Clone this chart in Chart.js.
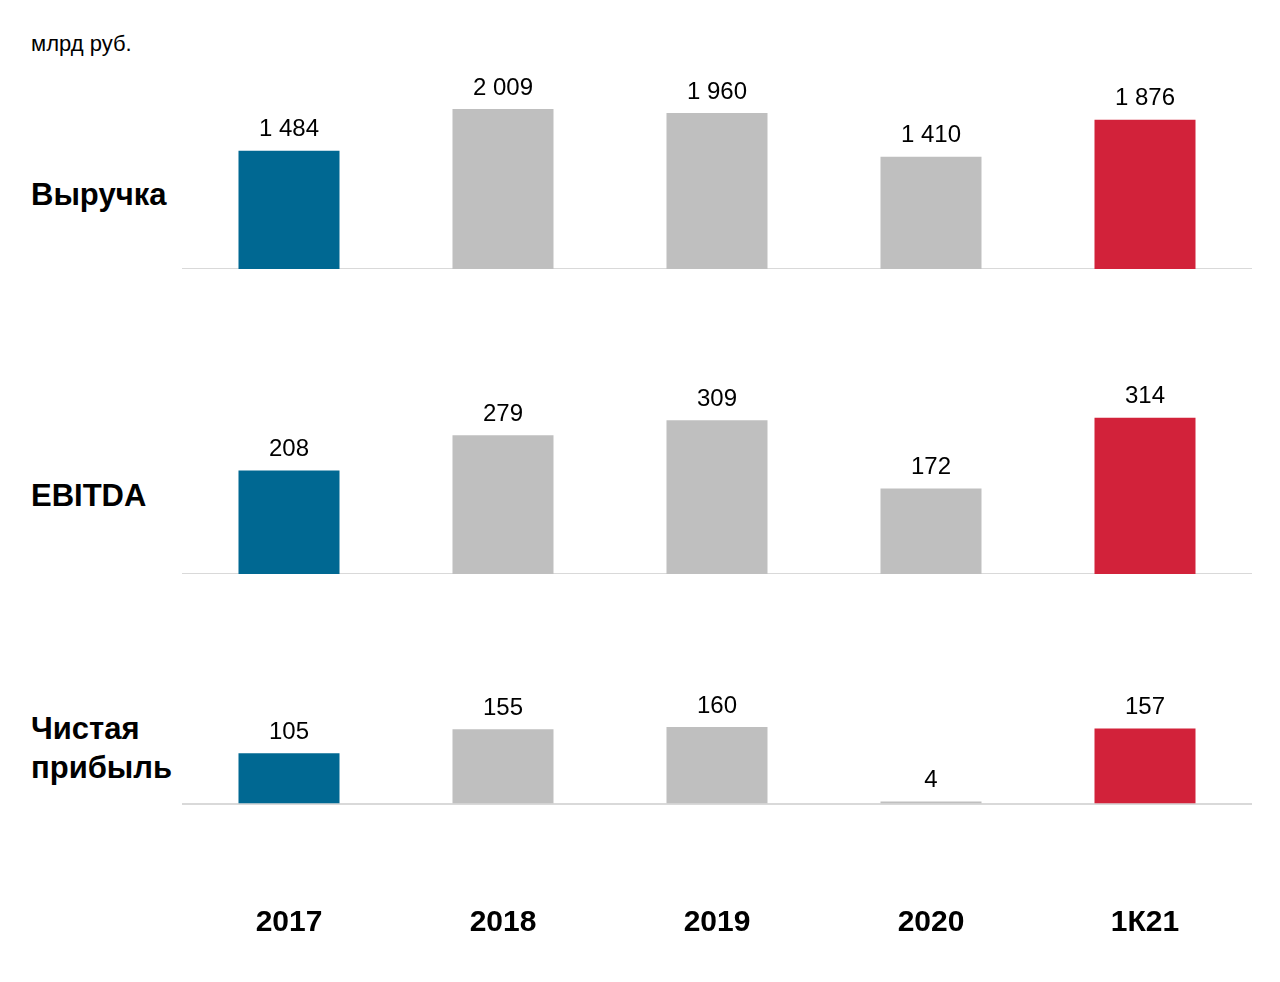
<!DOCTYPE html>
<html>
<head>
<meta charset="utf-8">
<script src="https://cdn.jsdelivr.net/npm/chart.js@4"></script>
<style>
  body { margin: 0; background: #fff; width: 1280px; height: 982px; position: relative; overflow: hidden;
         font-family: "Liberation Sans", Arial, sans-serif; color: #000; }
  .unit { position: absolute; left: 31px; top: 31px; font-size: 22px; }
  .rowname { position: absolute; left: 31px; font-size: 31px; font-weight: bold; line-height: 39px; }
  .box { position: absolute; left: 182px; width: 1070px; }
</style>
</head>
<body>
<div class="unit">млрд руб.</div>
<div class="rowname" style="top:175px">Выручка</div>
<div class="rowname" style="top:476px">EBITDA</div>
<div class="rowname" style="top:709px">Чистая<br>прибыль</div>

<div class="box" style="top:60px;height:209px"><canvas id="revenue"></canvas></div>
<div class="box" style="top:365px;height:209px"><canvas id="ebitda"></canvas></div>
<div class="box" style="top:660px;height:287px"><canvas id="profit"></canvas></div>

<script>
const years = ['2017', '2018', '2019', '2020', '1К21']
const revenue = [1484, 2009, 1960, 1410, 1876]
const ebitda = [208, 279, 309, 172, 314]
const netProfit = [105, 155, 160, 4, 157]

const barColors = ['#006892', '#bfbfbf', '#bfbfbf', '#bfbfbf', '#d2223a']

const fmt = v => String(v).replace(/\B(?=(\d{3})+(?!\d))/g, ' ')

// value labels above bars
const valueLabels = {
    id: 'valueLabels',
    afterDatasetsDraw(chart) {
        const ctx = chart.ctx
        const meta = chart.getDatasetMeta(0)
        const data = chart.data.datasets[0].data
        ctx.save()
        ctx.font = '24px "Liberation Sans", Arial, sans-serif'
        ctx.fillStyle = '#000'
        ctx.textAlign = 'center'
        ctx.textBaseline = 'bottom'
        meta.data.forEach((bar, i) => {
            ctx.fillText(fmt(data[i]), bar.x, bar.y - 9)
        })
        ctx.restore()
    }
}

const makeChart = (id, values, max, showYears) => {
    return new Chart(document.getElementById(id), {
        type: 'bar',
        data: {
            labels: years,
            datasets: [{
                data: values,
                backgroundColor: barColors,
                categoryPercentage: 1,
                barPercentage: 0.472,
                minBarLength: 1
            }]
        },
        options: {
            responsive: true,
            maintainAspectRatio: false,
            animation: false,
            layout: { padding: 0 },
            plugins: {
                legend: { display: false },
                tooltip: { enabled: false }
            },
            scales: {
                x: {
                    grid: { display: false, drawTicks: false },
                    border: { display: true, color: '#d9d9d9', width: 2 },
                    ticks: {
                        display: showYears,
                        padding: 101,
                        maxRotation: 0,
                        color: '#000',
                        font: { family: '"Liberation Sans", Arial, sans-serif', size: 30, weight: 'bold' }
                    },
                    afterFit(scale) {
                        // keep the full width, labels fit inside anyway
                        scale.paddingLeft = 0
                        scale.paddingRight = 0
                    }
                },
                y: {
                    display: false,
                    min: 0,
                    max: max
                }
            }
        },
        plugins: [valueLabels]
    })
}

makeChart('revenue', revenue, 2625, false)
makeChart('ebitda', ebitda, 420, false)
makeChart('profit', netProfit, 300, true)
</script>
</body>
</html>
